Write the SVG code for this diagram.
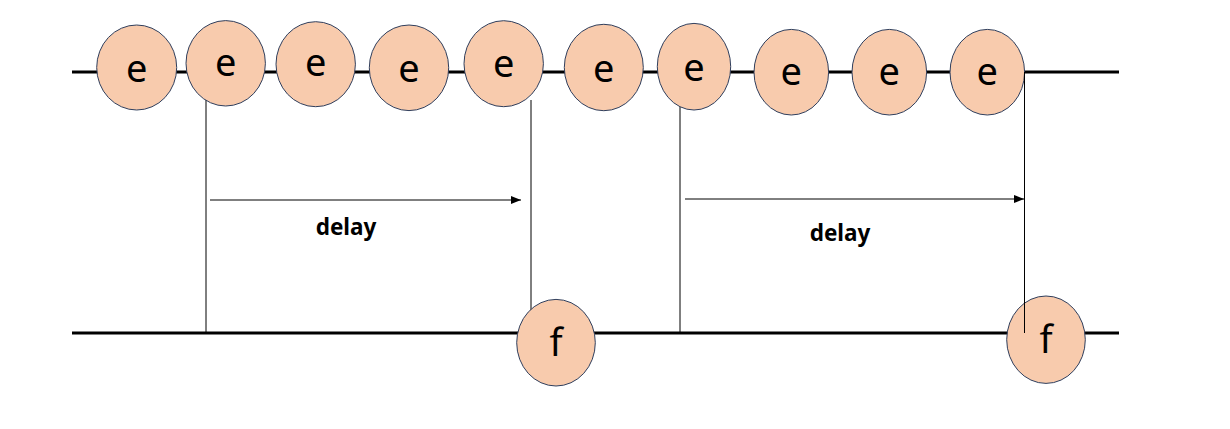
<svg xmlns="http://www.w3.org/2000/svg" width="1230" height="429" viewBox="0 0 1230 429">
<style>
.bg{fill:#ffffff}
.axis{stroke:#000;stroke-width:3;fill:none}
.vl{stroke:#000;stroke-width:1;fill:none}
.ev ellipse{fill:#F8CBAD;stroke:#2F3E5C;stroke-width:1}
.ev text{font-family:"Noto Sans",sans-serif;font-size:38px;fill:#000;text-anchor:middle}
.lbl{font-family:"Noto Sans",sans-serif;font-size:22.5px;font-weight:bold;fill:#000;text-anchor:middle}
</style>
<defs>
<marker id="ah" markerWidth="10" markerHeight="8" refX="10" refY="4" orient="auto" markerUnits="userSpaceOnUse">
<path d="M0,0 L10,4 L0,8 Z" fill="#000"/>
</marker>
</defs>
<rect class="bg" x="0" y="0" width="1230" height="429"/>
<g id="connectors">
<line class="axis" x1="72" y1="72" x2="1119" y2="72"/>
<line class="axis" x1="72" y1="333" x2="1119" y2="333"/>
<line class="vl" x1="206" y1="100" x2="206" y2="333"/>
<line class="vl" x1="531" y1="100" x2="531" y2="333"/>
<line class="vl" x1="680" y1="100" x2="680" y2="333"/>
<line class="vl" x1="210" y1="200" x2="521" y2="200" marker-end="url(#ah)"/>
<line class="vl" x1="685" y1="199" x2="1024" y2="199" marker-end="url(#ah)"/>
</g>
<g id="e1" class="ev"><ellipse cx="136.7" cy="67.5" rx="40" ry="42.5"/><text x="136.7" y="81.7">e</text></g>
<g id="e2" class="ev"><ellipse cx="225.7" cy="63.3" rx="39.7" ry="42.7"/><text x="225.7" y="75.5">e</text></g>
<g id="e3" class="ev"><ellipse cx="315.7" cy="64.2" rx="39.7" ry="42.5"/><text x="315.7" y="75.5">e</text></g>
<g id="e4" class="ev"><ellipse cx="409" cy="67.8" rx="39.7" ry="42.8"/><text x="409" y="81.7">e</text></g>
<g id="e5" class="ev"><ellipse cx="503.7" cy="63.7" rx="39.7" ry="43"/><text x="503.7" y="76.7">e</text></g>
<g id="e6" class="ev"><ellipse cx="603.8" cy="67.5" rx="39.5" ry="43.2"/><text x="603.8" y="81.7">e</text></g>
<g id="e7" class="ev"><ellipse cx="694" cy="66.7" rx="36.7" ry="43.3"/><text x="694" y="80.7">e</text></g>
<g id="e8" class="ev"><ellipse cx="791.3" cy="72.2" rx="37.3" ry="42.8"/><text x="791.3" y="85">e</text></g>
<g id="e9" class="ev"><ellipse cx="889.3" cy="72.2" rx="37.3" ry="42.8"/><text x="889.3" y="85">e</text></g>
<g id="e10" class="ev"><ellipse cx="987.3" cy="72.2" rx="37.3" ry="42.8"/><text x="987.3" y="85">e</text></g>
<g id="f1" class="ev"><ellipse cx="556" cy="342.7" rx="39.3" ry="43.3"/><text x="556" y="356">f</text></g>
<g id="f2" class="ev"><ellipse cx="1046" cy="339.7" rx="39.3" ry="43.7"/><text x="1046" y="353.3">f</text></g>
<g id="connectors-over">
<line class="vl" x1="1024.5" y1="72" x2="1024.5" y2="333"/>
</g>
<g id="label1"><text class="lbl" x="346" y="235">delay</text></g>
<g id="label2"><text class="lbl" x="840" y="241">delay</text></g>
</svg>
